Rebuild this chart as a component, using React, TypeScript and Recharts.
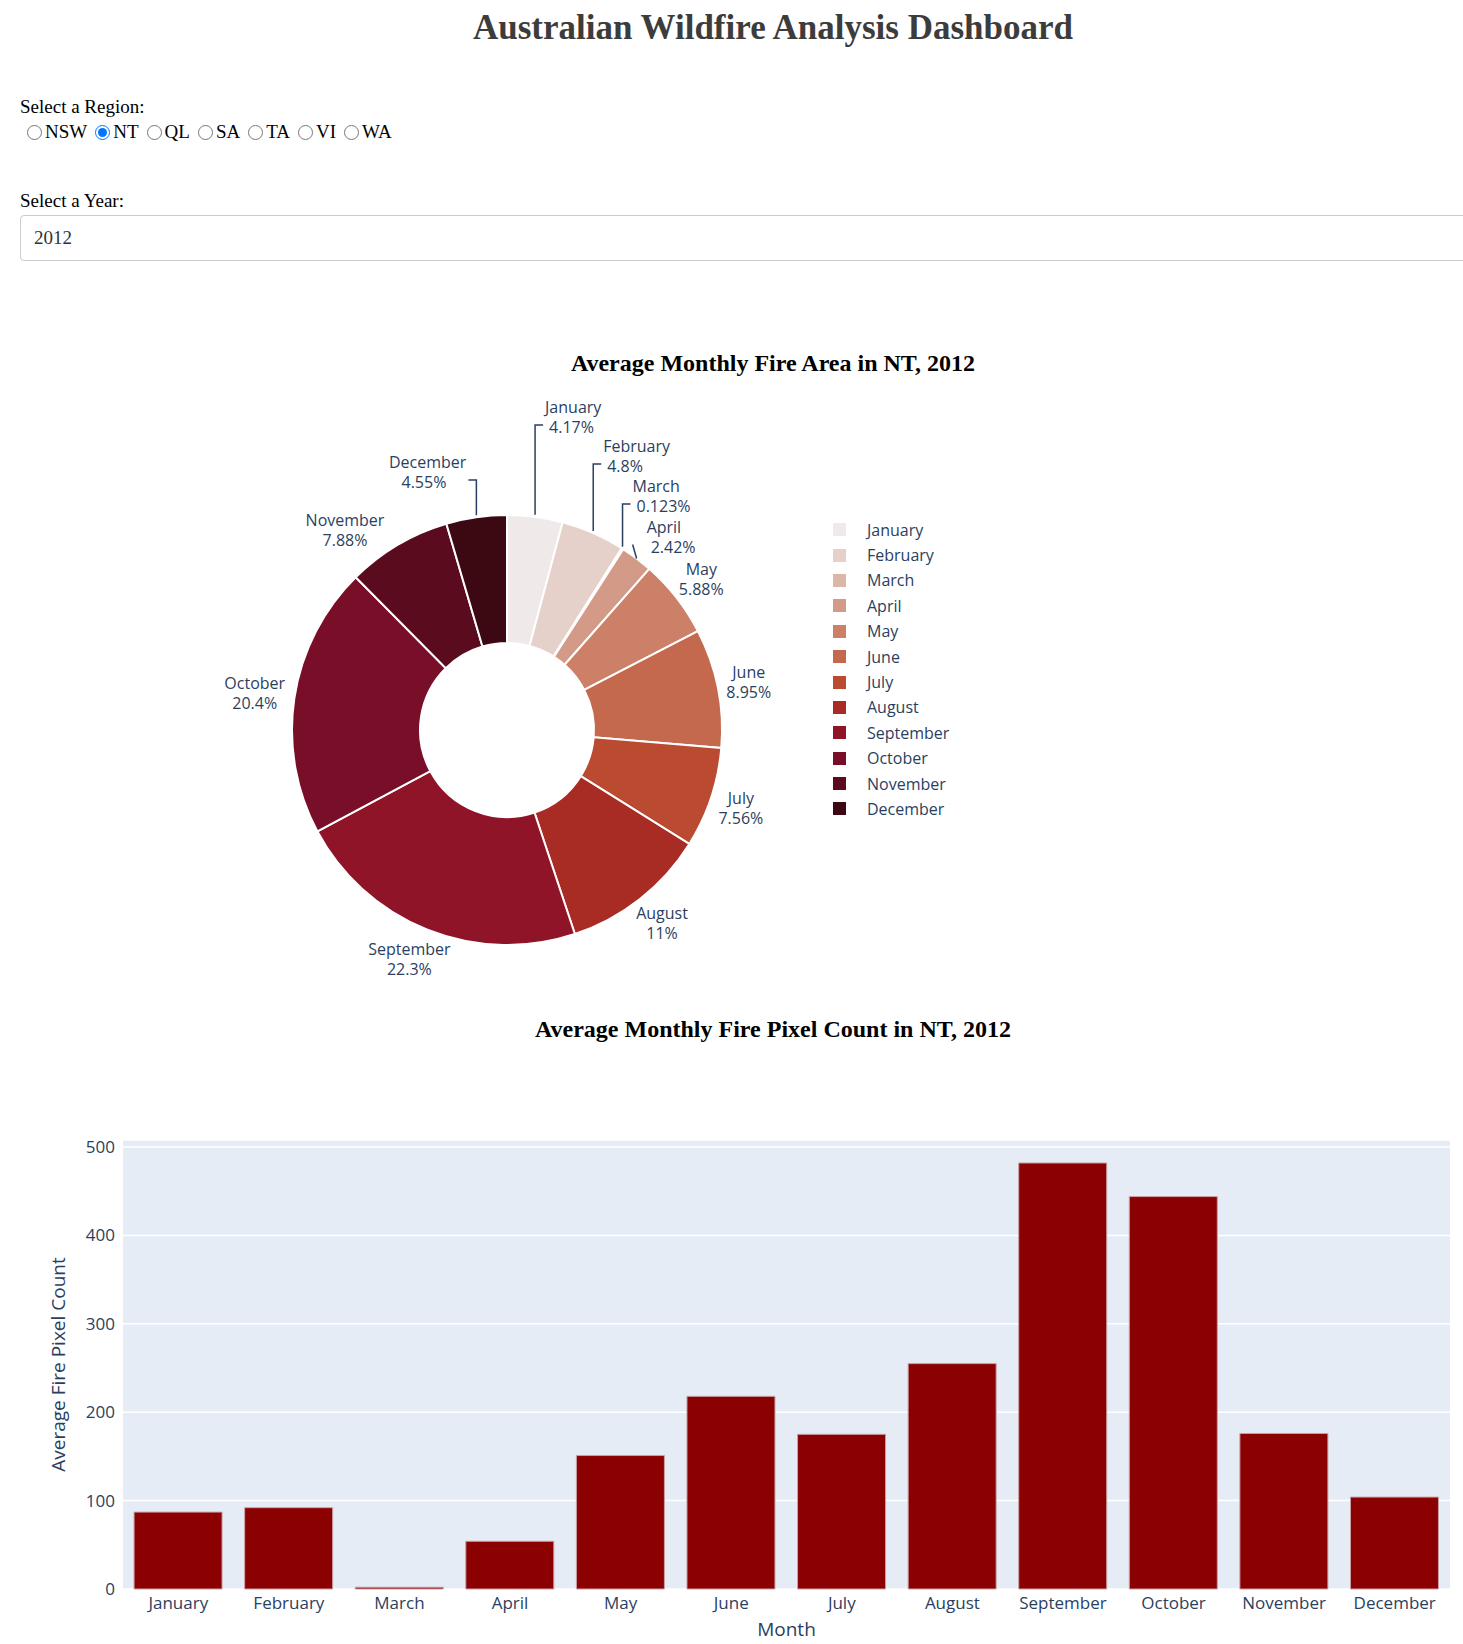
import React from 'react';
import { PieChart, Pie, Cell, BarChart, Bar, XAxis, YAxis, CartesianGrid } from 'recharts';

const months = ['January', 'February', 'March', 'April', 'May', 'June', 'July', 'August', 'September', 'October', 'November', 'December'];
const areaShare = [4.17, 4.8, 0.123, 2.42, 5.88, 8.95, 7.56, 11, 22.3, 20.4, 7.88, 4.55];
const pixelCount = [87, 92, 2, 54, 151, 218, 175, 255, 482, 444, 176, 104];
const yTicks = [0, 100, 200, 300, 400, 500];
const regions = ['NSW', 'NT', 'QL', 'SA', 'TA', 'VI', 'WA'];

const sliceColors = ['#f0e9e9', '#e6d1ca', '#dcb6a9', '#d49a88', '#cc8068', '#c4694d', '#ba4a30', '#a82b24', '#901428', '#780e28', '#5a0c1e', '#3c0812'];
const ink = '#2a3f5f';
const font = '"Open Sans", "DejaVu Sans", sans-serif';

const pieData = months.map((m, i) => ({ name: m, value: areaShare[i] }));
const barData = months.map((m, i) => ({ month: m, count: pixelCount[i] }));

// lifted labels for crowded top slices: y relative to centre
const lifted: Record<number, number> = { 0: -305, 1: -266, 2: -226, 3: -185, 11: -250 };
// label pushed sideways to avoid a neighbour (offset of text centre from pie centre)
const pushed: Record<number, [number, number]> = { 10: [-162, -200] };

const PieLabel = (p: any) => {
  const { cx, cy, midAngle, outerRadius, index } = p;
  const rad = Math.PI / 180;
  const ex = cx + outerRadius * Math.cos(-midAngle * rad);
  const ey = cy + outerRadius * Math.sin(-midAngle * rad);
  const pct = `${areaShare[index]}%`;
  const txt = { fill: ink, fontSize: 16, fontFamily: font };
  if (lifted[index] !== undefined) {
    const ty = cy + lifted[index];
    const left = ex < cx;
    const hx = left ? ex - 8 : ex + 8;
    return (
      <g>
        {index !== 3 && <polyline points={`${ex},${ey - 2} ${ex},${ty} ${hx},${ty}`} fill="none" stroke={ink} strokeWidth={1.5} />}
        {index === 3 && <line x1={ex} y1={ey} x2={ex - 4} y2={ey - 14} stroke={ink} strokeWidth={1.5} />}
        <text x={left ? hx - 2 : hx + 2} y={ty - 12} textAnchor={left ? 'end' : 'start'} {...txt}>{months[index]}</text>
        <text x={left ? hx - 22 : hx + 6} y={ty + 8} textAnchor={left ? 'end' : 'start'} {...txt}>{pct}</text>
      </g>
    );
  }
  let tx: number;
  let ty: number;
  if (pushed[index]) {
    tx = cx + pushed[index][0];
    ty = cy + pushed[index][1];
  } else {
    const r = outerRadius + 10;
    const px = cx + r * Math.cos(-midAngle * rad);
    const py = cy + r * Math.sin(-midAngle * rad);
    const w = Math.max(months[index].length, pct.length) * 8.6;
    tx = px + (w / 2) * Math.cos(-midAngle * rad);
    ty = py + 21 * Math.sin(-midAngle * rad);
  }
  return (
    <g>
      <text x={tx} y={ty - 4} textAnchor="middle" {...txt}>{months[index]}</text>
      <text x={tx} y={ty + 16} textAnchor="middle" {...txt}>{pct}</text>
    </g>
  );
};

export default function App() {
  return (
    <div style={{ position: 'relative', width: 1463, height: 1644, background: '#fff', fontFamily: 'serif' }}>
      <style>{`body{margin:0}`}</style>
      <div style={{ position: 'absolute', top: 8, left: 0, width: 1546, textAlign: 'center', fontSize: 35, fontWeight: 'bold', color: '#3c3c3c' }}>
        Australian Wildfire Analysis Dashboard
      </div>
      <div style={{ position: 'absolute', top: 96, left: 20, fontSize: 19 }}>Select a Region:</div>
      <div style={{ position: 'absolute', top: 121, left: 25, fontSize: 19, display: 'flex', alignItems: 'center' }}>
        {regions.map((r) => (
          <label key={r} style={{ display: 'flex', alignItems: 'center', marginRight: 6 }}>
            <input type="radio" name="region" defaultChecked={r === 'NT'} style={{ margin: '0 3px 0 2px', width: 15, height: 15 }} />
            {r}
          </label>
        ))}
      </div>
      <div style={{ position: 'absolute', top: 190, left: 20, fontSize: 19 }}>Select a Year:</div>
      <div style={{ position: 'absolute', top: 215, left: 20, width: 1460, height: 46, border: '1px solid #ccc', borderRadius: 4, boxSizing: 'border-box', fontSize: 19, padding: '11px 13px', color: '#333' }}>
        2012
      </div>

      <div style={{ position: 'absolute', top: 350, left: 0, width: 1546, textAlign: 'center', fontSize: 24, fontWeight: 'bold' }}>
        Average Monthly Fire Area in NT, 2012
      </div>
      <div style={{ position: 'absolute', top: 395, left: 0 }}>
        <PieChart width={1000} height={600}>
          <Pie data={pieData} dataKey="value" nameKey="name" cx={502} cy={330} innerRadius={87} outerRadius={215}
            startAngle={90} endAngle={-270} stroke="#fff" strokeWidth={2} label={PieLabel} labelLine={false} isAnimationActive={false}>
            {pieData.map((d, i) => <Cell key={d.name} fill={sliceColors[i]} />)}
          </Pie>
        </PieChart>
      </div>
      <div style={{ position: 'absolute', top: 517, left: 833, fontFamily: font, fontSize: 16, color: ink }}>
        {months.map((m, i) => (
          <div key={m} style={{ display: 'flex', alignItems: 'center', height: 25.4 }}>
            <span style={{ width: 13, height: 13, background: sliceColors[i], display: 'inline-block', marginRight: 21 }} />
            {m}
          </div>
        ))}
      </div>

      <div style={{ position: 'absolute', top: 1016, left: 0, width: 1546, textAlign: 'center', fontSize: 24, fontWeight: 'bold' }}>
        Average Monthly Fire Pixel Count in NT, 2012
      </div>
      <div style={{ position: 'absolute', top: 1100, left: 0 }}>
        <BarChart width={1463} height={544} data={barData} margin={{ top: 40, right: 13, bottom: 30, left: 60 }} barCategoryGap="10%">
          <CartesianGrid vertical={false} stroke="#fff" strokeWidth={1.5} fill="#e5ecf6" />
          <XAxis dataKey="month" tickLine={false} axisLine={false} interval={0} height={25}
            tick={{ fill: ink, fontSize: 17, fontFamily: font }}
            label={{ value: 'Month', position: 'insideBottom', offset: -22, fill: ink, fontSize: 19, fontFamily: font }} />
          <YAxis domain={[0, 508]} ticks={yTicks} tickLine={false} axisLine={false} width={63}
            tick={{ fill: ink, fontSize: 17, fontFamily: font }}
            label={{ value: 'Average Fire Pixel Count', angle: -90, position: 'insideLeft', offset: -2, fill: ink, fontSize: 19, fontFamily: font, style: { textAnchor: 'middle' } }} />
          <Bar dataKey="count" fill="#8b0000" stroke="#c9a0a8" strokeWidth={1} isAnimationActive={false} />
        </BarChart>
      </div>
    </div>
  );
}
